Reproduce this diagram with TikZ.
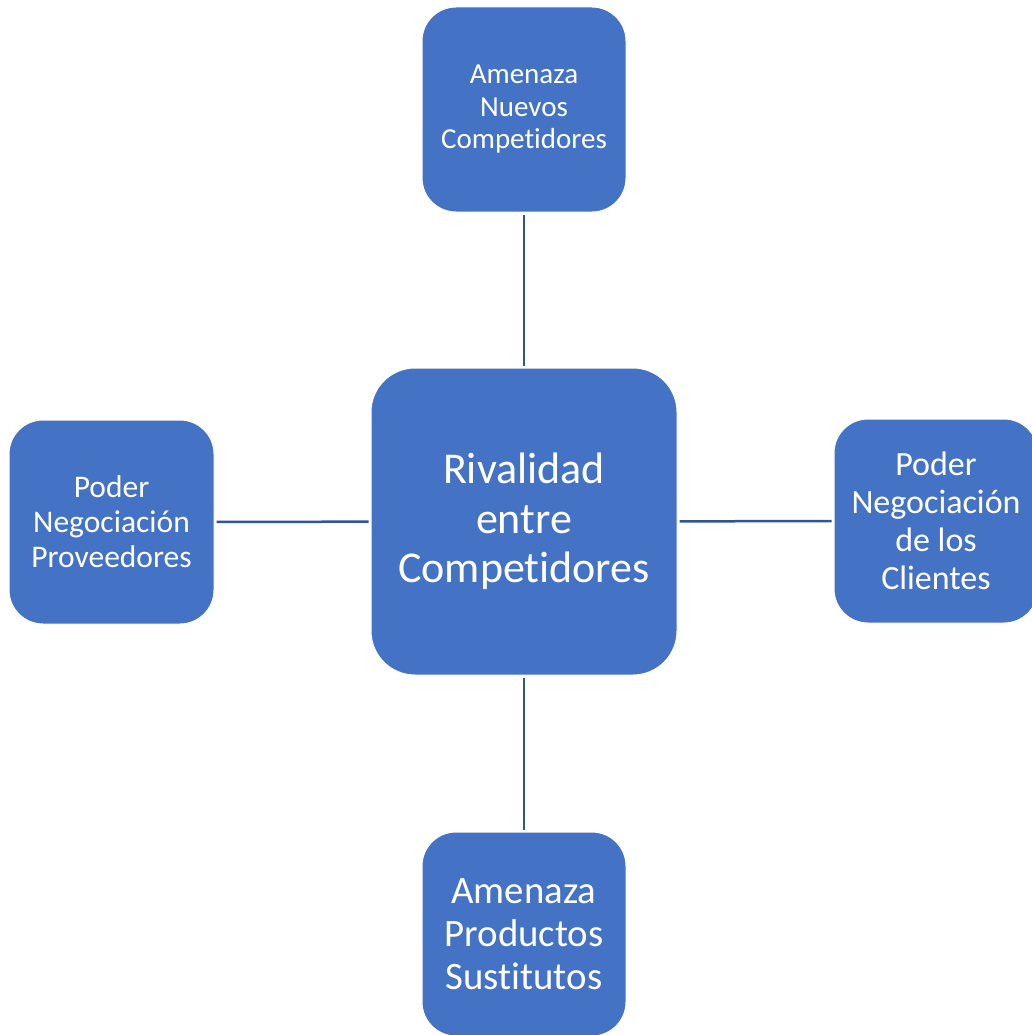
\documentclass[tikz,border=0pt]{standalone}
\usepackage{fontspec}
\setmainfont{Carlito}[Ligatures=NoCommon]
\usepackage{tikz}
\usetikzlibrary{positioning}
\definecolor{boxcolor}{HTML}{4472C4}
\definecolor{linkcolor}{HTML}{2F5597}

\begin{document}
\begin{tikzpicture}[x=1pt, y=-1pt,
% define styles here
forcebox/.style={rectangle, draw=white, line width=1pt, fill=boxcolor, rounded corners=34pt,
  minimum width=204pt, minimum height=204pt, inner sep=0pt, align=center, text=white},
rivalbox/.style={forcebox, rounded corners=44pt, minimum width=306pt, minimum height=307pt},
link/.style={draw=linkcolor, line width=2.5pt, shorten <=2pt, shorten >=2pt}
]
\useasboundingbox (0,0) rectangle (1032,1035);

\node[rivalbox, font=\fontsize{44}{49.5}\selectfont] (rival) at (524,521.5)
  {Rivalidad\\entre\\Competidores};

\node[forcebox, minimum height=205pt, font=\fontsize{29}{32.5}\selectfont] (nuevos) at (524,109.5)
  {Amenaza\\Nuevos\\Competidores};
\node[forcebox, minimum width=205pt, font=\fontsize{31.5}{35}\selectfont] (proveedores) at (111.5,522)
  {Poder\\Negociación\\Proveedores};
\node[forcebox, font=\fontsize{34}{38}\selectfont] (clientes) at (936,521)
  {Poder\\Negociación\\de los\\Clientes};
\node[forcebox, font=\fontsize{38.8}{43}\selectfont] (sustitutos) at (524,934)
  {Amenaza\\Productos\\Sustitutos};

\draw[link] (nuevos) -- (rival);
\draw[link] (rival) -- (sustitutos);
\draw[link] (proveedores) -- (rival);
\draw[link] (rival) -- (clientes);
\end{tikzpicture}
\end{document}
